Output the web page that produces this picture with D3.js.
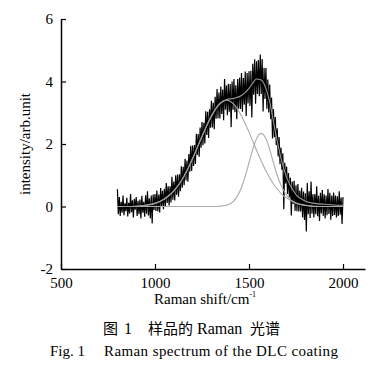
<!DOCTYPE html>
<html><head><meta charset="utf-8">
<script src="https://cdn.jsdelivr.net/npm/d3@7"></script>
<style>
html,body{margin:0;padding:0;background:#fff;}
svg{display:block;}
</style></head>
<body>
<svg id="c" width="379" height="376"></svg>
<script>
// ---- data ----
const shiftStart = 800, shiftEnd = 2000, shiftStep = 5;
const spectrum = [
0.55,-0.25,0.30,-0.30,0.15,-0.20,0.35,-0.28,0.10,-0.15,
0.28,-0.32,0.12,-0.22,0.40,-0.18,0.20,-0.35,0.25,-0.10,
0.30,-0.30,0.18,-0.25,0.22,-0.38,0.34,-0.20,0.15,-0.33,
0.36,-0.23,0.49,-0.29,0.26,-0.38,0.35,-0.54,0.38,-0.11,
0.40,-0.14,0.51,-0.16,0.38,-0.19,0.59,0.01,0.50,-0.09,
0.57,0.00,0.75,0.11,0.65,0.03,0.65,0.13,0.95,0.22,
0.80,0.19,1.00,0.38,1.02,0.31,1.03,0.49,1.29,0.60,
1.27,0.68,1.53,0.83,1.47,0.79,1.68,1.11,1.94,1.14,
1.95,1.30,1.97,1.36,2.33,1.65,2.32,1.59,2.53,1.88,
2.70,1.96,2.68,2.02,3.05,2.29,3.03,2.19,3.11,2.52,
3.38,2.53,3.32,2.47,3.51,2.81,3.76,2.82,3.65,2.82,
3.84,2.96,3.74,2.76,4.08,3.10,3.87,2.92,3.93,3.03,
3.92,2.54,4.00,3.10,4.08,3.02,3.88,2.79,4.08,3.13,
4.12,3.12,4.27,3.03,4.11,3.26,4.32,2.90,4.27,3.30,
4.33,3.22,4.34,2.85,4.57,3.58,4.71,3.29,4.65,3.60,
4.69,3.53,4.86,3.60,4.72,3.04,4.44,3.44,4.43,3.13,
4.06,3.01,3.90,2.79,3.49,2.18,3.12,2.22,2.86,1.96,
2.50,1.60,2.22,1.35,1.89,1.18,1.70,-0.09,1.40,0.74,
1.28,0.40,1.07,0.30,0.92,-0.29,0.80,0.08,0.82,-0.14,
0.68,-0.15,0.72,-0.16,0.51,-0.16,0.60,-0.35,0.48,-0.43,
0.42,-0.80,0.75,-0.25,0.49,-0.37,0.80,-0.23,0.39,-0.35,
0.40,-0.25,0.65,-0.31,0.34,-0.46,0.44,-0.22,0.53,-0.30,
0.39,-0.38,0.35,-0.28,0.56,-0.24,0.44,-0.42,0.35,-0.30,
0.45,-0.27,0.35,-0.35,0.33,-0.30,0.49,-0.26,0.29,-0.56,
0.30
];
const fitShift = [800,850,900,950,1000,1050,1100,1150,1200,1250,1300,1340,1380,1420,1460,1480,1500,1520,1540,1565,1590,1610,1630,1650,1675,1700,1750,1800,1850,1900,1950,2000];
const fitSum  = [0.00,0.00,0.01,0.04,0.10,0.25,0.50,0.92,1.55,2.25,2.88,3.25,3.42,3.46,3.55,3.65,3.78,3.95,4.08,4.05,3.78,3.35,2.72,2.10,1.43,0.93,0.38,0.17,0.10,0.07,0.05,0.04];
const peakD   = [0.00,0.00,0.01,0.04,0.10,0.23,0.49,0.92,1.52,2.24,2.90,3.27,3.40,3.27,2.90,2.65,2.38,2.09,1.80,1.46,1.14,0.92,0.72,0.56,0.39,0.27,0.11,0.04,0.01,0.00,0.00,0.00];
const peakG   = [0.00,0.00,0.00,0.00,0.00,0.00,0.00,0.00,0.00,0.00,0.00,0.01,0.04,0.18,0.61,0.97,1.40,1.83,2.17,2.34,2.17,1.83,1.40,1.00,0.62,0.36,0.10,0.03,0.00,0.00,0.00,0.00];
const xTicks = [500,1000,1500,2000];
const yTicks = [-2,0,2,4,6];
const xTitle = "Raman shift/cm";
const xTitleSup = "-1";
const yTitle = "intensity/arb.unit";

// ---- drawing ----
const svg = d3.select("#c");
const serif = "'Liberation Serif','Times New Roman',serif";
const x = d3.scaleLinear().domain([500, 2117]).range([61, 365]);
const y = d3.scaleLinear().domain([-2, 6]).range([269, 19]);

const shifts = d3.range(shiftStart, shiftEnd + 1, shiftStep);
const specPts = spectrum.map((v, i) => [shifts[i], v]);

const line = d3.line().x(d => x(d[0])).y(d => y(d[1]));
const smooth = d3.line().x(d => x(d[0])).y(d => y(d[1])).curve(d3.curveMonotoneX);

svg.append("path").datum(specPts).attr("d", line)
  .attr("fill", "none").attr("stroke", "#000").attr("stroke-width", 1.2);

const comp = (arr) => fitShift.map((s, i) => [s, arr[i]]);
svg.append("path").datum(comp(peakD)).attr("d", smooth)
  .attr("fill", "none").attr("stroke", "#ababab").attr("stroke-width", 1.1);
svg.append("path").datum(comp(peakG)).attr("d", smooth)
  .attr("fill", "none").attr("stroke", "#ababab").attr("stroke-width", 1.1);
svg.append("path").datum(comp(fitSum)).attr("d", smooth)
  .attr("fill", "none").attr("stroke", "#9a9a9a").attr("stroke-width", 1.1);

// axes
const fmt = d => String(d);
const gx = svg.append("g").attr("transform", "translate(0,269)")
  .call(d3.axisBottom(x).tickValues(xTicks).tickFormat(fmt).tickSizeInner(-5).tickSizeOuter(0).tickPadding(8.5));
const gy = svg.append("g").attr("transform", "translate(61,0)")
  .call(d3.axisLeft(y).tickValues(yTicks).tickFormat(fmt).tickSizeInner(-5).tickSizeOuter(0).tickPadding(8));
[gx, gy].forEach(g => {
  g.select(".domain").attr("stroke", "#000").attr("stroke-width", 1.5);
  g.selectAll(".tick line").attr("stroke", "#000").attr("stroke-width", 1.2);
  g.selectAll(".tick text").attr("font-family", serif).attr("font-size", 15).attr("fill", "#000");
});

// titles
const xt = svg.append("text").attr("x", 154).attr("y", 304)
  .attr("font-family", serif).attr("font-size", 15).attr("fill", "#000").text(xTitle);
xt.append("tspan").attr("font-size", 8).attr("dy", -7).text(xTitleSup);

svg.append("text").attr("transform", "translate(30,144) rotate(-90)")
  .attr("text-anchor", "middle").attr("font-family", serif).attr("font-size", 15)
  .attr("fill", "#000").text(yTitle);

// caption
const cjk = "'Noto Sans CJK SC',sans-serif";
svg.append("text").attr("x", 103).attr("y", 334).attr("font-family", cjk).attr("font-size", 15).text("图");
svg.append("text").attr("x", 124).attr("y", 334).attr("font-family", serif).attr("font-size", 16).text("1");
svg.append("text").attr("x", 148).attr("y", 334).attr("font-family", cjk).attr("font-size", 15).text("样品的");
svg.append("text").attr("x", 197).attr("y", 334).attr("font-family", serif).attr("font-size", 16).text("Raman");
svg.append("text").attr("x", 250).attr("y", 334).attr("font-family", cjk).attr("font-size", 15).text("光谱");

svg.append("text").attr("x", 50).attr("y", 356).attr("font-family", serif).attr("font-size", 15).text("Fig. 1");
svg.append("text").attr("x", 104).attr("y", 356).attr("font-family", serif).attr("font-size", 15)
  .attr("textLength", 234).attr("lengthAdjust", "spacing").text("Raman spectrum of the DLC coating");
</script>
</body></html>
